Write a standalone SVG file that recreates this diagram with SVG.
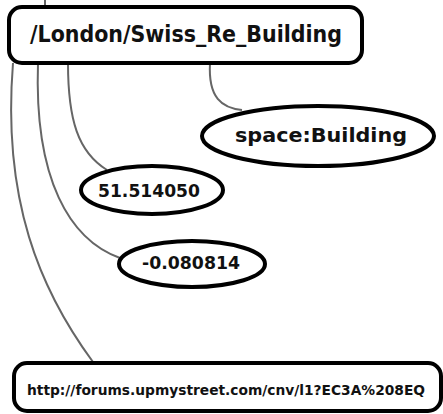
<svg xmlns="http://www.w3.org/2000/svg" width="443" height="414" viewBox="0 0 443 414">
<style>
.node{fill:#fff;stroke:#000;stroke-width:4}
.lbl{font-family:"DejaVu Sans","Liberation Sans",sans-serif;font-weight:bold;fill:#111}
.url{font-family:"DejaVu Sans Condensed","DejaVu Sans","Liberation Sans",sans-serif;font-weight:bold;fill:#111}
.edge{fill:none;stroke:#666;stroke-width:2}
</style>
<rect width="443" height="414" fill="#fff"/>
<g id="connectors">
<path class="edge" d="M45,0 L45,7"/>
<path class="edge" d="M13,63 C2,200 40,290 93,362"/>
<path class="edge" d="M38,63 C34,180 70,240 120,258"/>
<path class="edge" d="M68,63 C68,120 78,152 107,170"/>
<path class="edge" d="M210,63 C208,98 222,108 242,110"/>
</g>
<g id="n_london">
<rect class="node" x="9" y="7" width="353" height="56" rx="13"/>
<text class="lbl" x="186" y="42" font-size="23" text-anchor="middle" textLength="312" lengthAdjust="spacingAndGlyphs">/London/Swiss_Re_Building</text>
</g>
<g id="n_building">
<ellipse class="node" cx="318" cy="136" rx="116" ry="30"/>
<text class="lbl" x="321" y="142" font-size="19" text-anchor="middle" textLength="172" lengthAdjust="spacingAndGlyphs">space:Building</text>
</g>
<g id="n_lat">
<ellipse class="node" cx="152" cy="190" rx="71" ry="24"/>
<text class="lbl" x="149" y="197" font-size="17" text-anchor="middle" textLength="102" lengthAdjust="spacingAndGlyphs">51.514050</text>
</g>
<g id="n_lon">
<ellipse class="node" cx="192" cy="264" rx="73" ry="23"/>
<text class="lbl" x="191" y="269" font-size="17" text-anchor="middle" textLength="98" lengthAdjust="spacingAndGlyphs">-0.080814</text>
</g>
<g id="n_url">
<rect class="node" x="14" y="363" width="427" height="48" rx="13"/>
<text class="url" x="226" y="395" font-size="14" text-anchor="middle" textLength="398" lengthAdjust="spacingAndGlyphs">http://forums.upmystreet.com/cnv/l1?EC3A%208EQ</text>
</g>
</svg>
